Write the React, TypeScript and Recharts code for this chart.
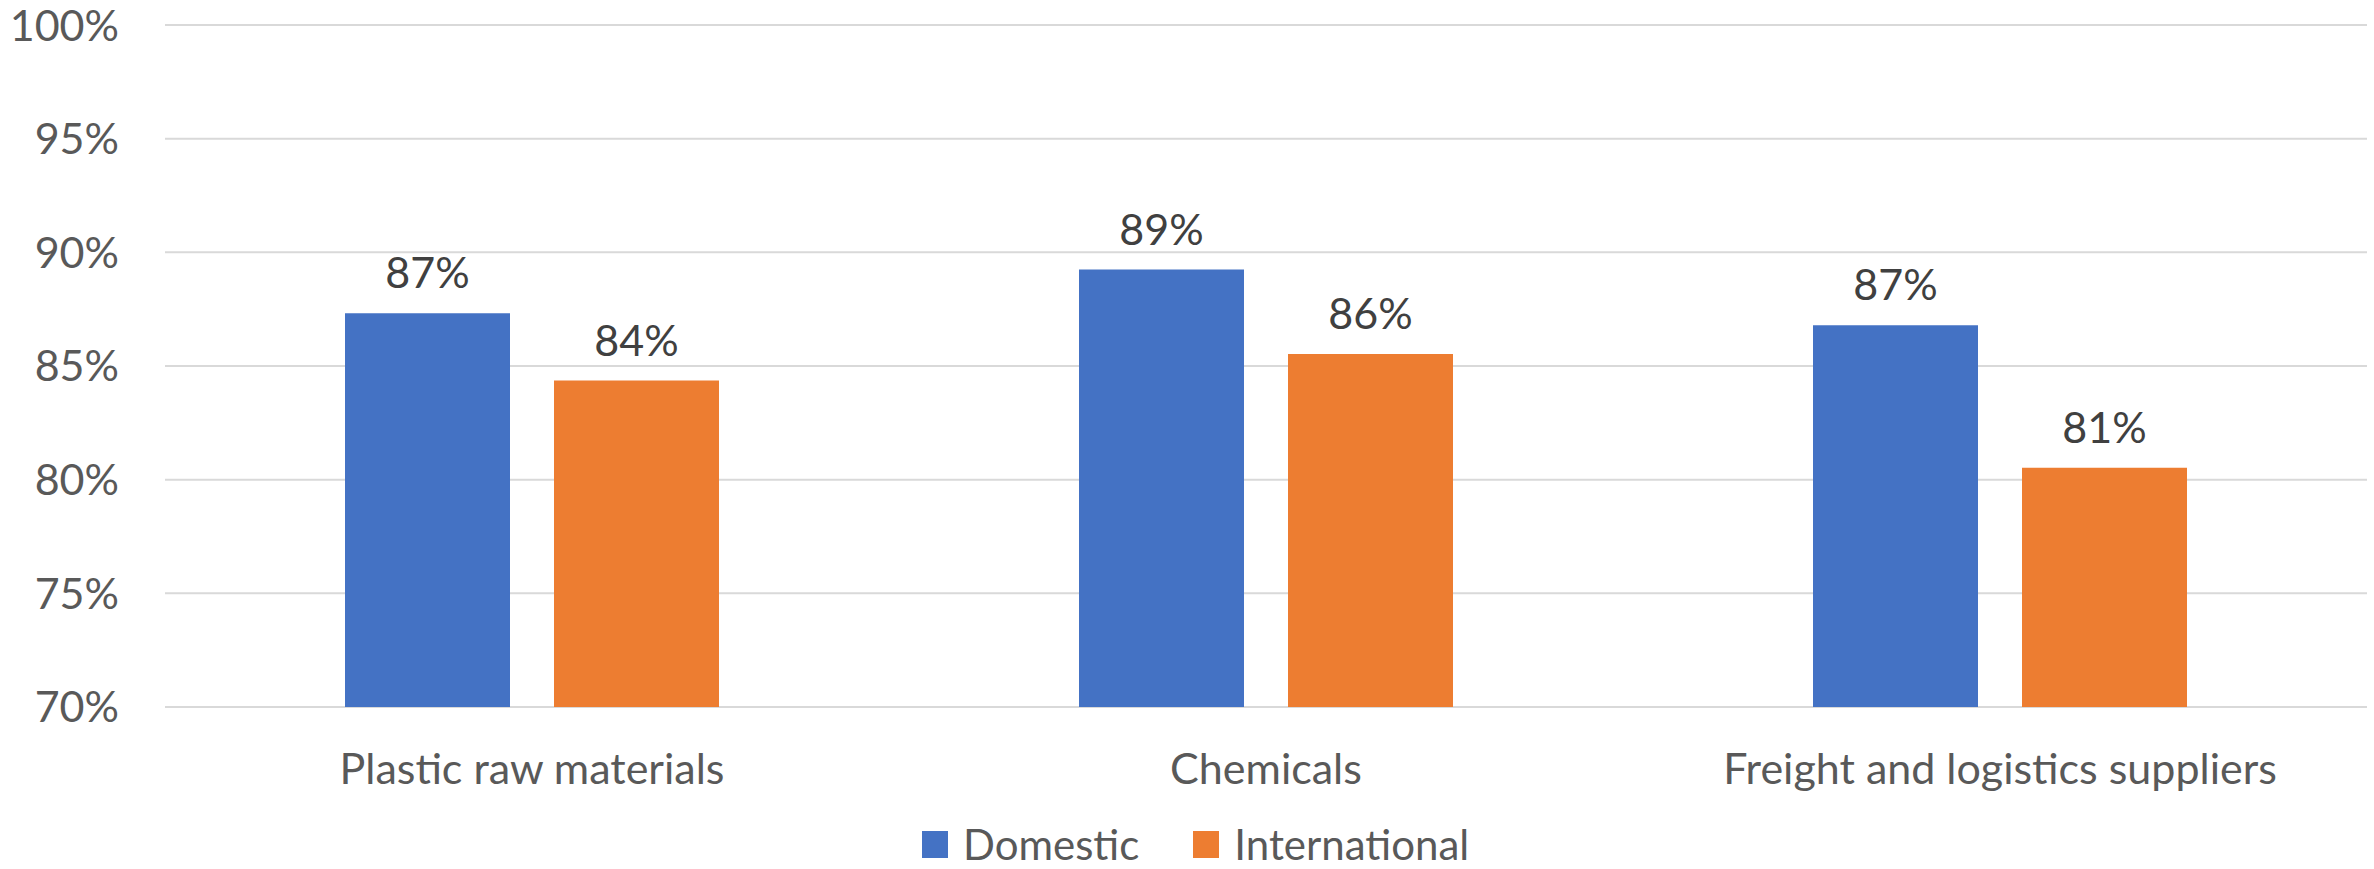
import { BarChart, Bar, XAxis, YAxis, CartesianGrid, Legend, LabelList } from 'recharts'

const categories = ['Plastic raw materials', 'Chemicals', 'Freight and logistics suppliers']
const domestic = [87.32, 89.24, 86.79]
const international = [84.36, 85.53, 80.52]
const yTicks = [70, 75, 80, 85, 90, 95, 100]

const seriesInfo = [
  { key: 'domestic', name: 'Domestic', color: '#4472C4' },
  { key: 'international', name: 'International', color: '#ED7D31' },
]

const FONT = 'Lato, "Open Sans", sans-serif'

const chartData = categories.map((name, i) => ({
  name,
  domestic: domestic[i],
  international: international[i],
}))

// legend box: 40px row + 5px bottom padding keeps the glyphs inside the page
function LegendBox() {
  return (
    <div style={{ display: 'flex', alignItems: 'center', height: 40, paddingBottom: 5, fontFamily: FONT, fontSize: 42, color: '#595959' }}>
      {seriesInfo.map((s, i) => (
        <div key={s.key} style={{ display: 'flex', alignItems: 'center', marginRight: i === 0 ? 54 : 0 }}>
          <span style={{ display: 'block', width: 26, height: 27, background: s.color, marginRight: 15 }} />
          <span style={{ display: 'block', height: 36, lineHeight: '36px' }}>{s.name}</span>
        </div>
      ))}
    </div>
  )
}

export default function App() {
  return (
    <div>
      <style>{'body{margin:0;background:#fff}'}</style>
      <BarChart
        width={2374}
        height={869}
        data={chartData}
        margin={{ top: 25, right: 7, left: 0, bottom: 0 }}
        barSize={165}
        barGap={44}
      >
        <CartesianGrid vertical={false} stroke="#D9D9D9" strokeWidth={2} />
        <XAxis
          dataKey="name"
          axisLine={false}
          tickLine={false}
          tickMargin={40}
          height={117}
          interval={0}
          tick={{ fontSize: 43, fill: '#595959', fontFamily: FONT }}
        />
        <YAxis
          domain={[70, 100]}
          ticks={yTicks}
          allowDataOverflow
          axisLine={false}
          tickLine={false}
          width={165}
          tickMargin={40}
          tickFormatter={(v: number) => `${v}%`}
          tick={{ fontSize: 43, fill: '#595959', fontFamily: FONT }}
        />
        <Legend
          verticalAlign="bottom"
          wrapperStyle={{ left: 922, width: 800 }}
          content={() => <LegendBox />}
        />
        {seriesInfo.map((s) => (
          <Bar key={s.key} dataKey={s.key} name={s.name} fill={s.color} isAnimationActive={false}>
            <LabelList
              dataKey={s.key}
              position="top"
              offset={25}
              formatter={(v: number) => `${Math.round(v)}%`}
              style={{ fontSize: 43, fill: '#404040', fontFamily: FONT }}
            />
          </Bar>
        ))}
      </BarChart>
    </div>
  )
}
